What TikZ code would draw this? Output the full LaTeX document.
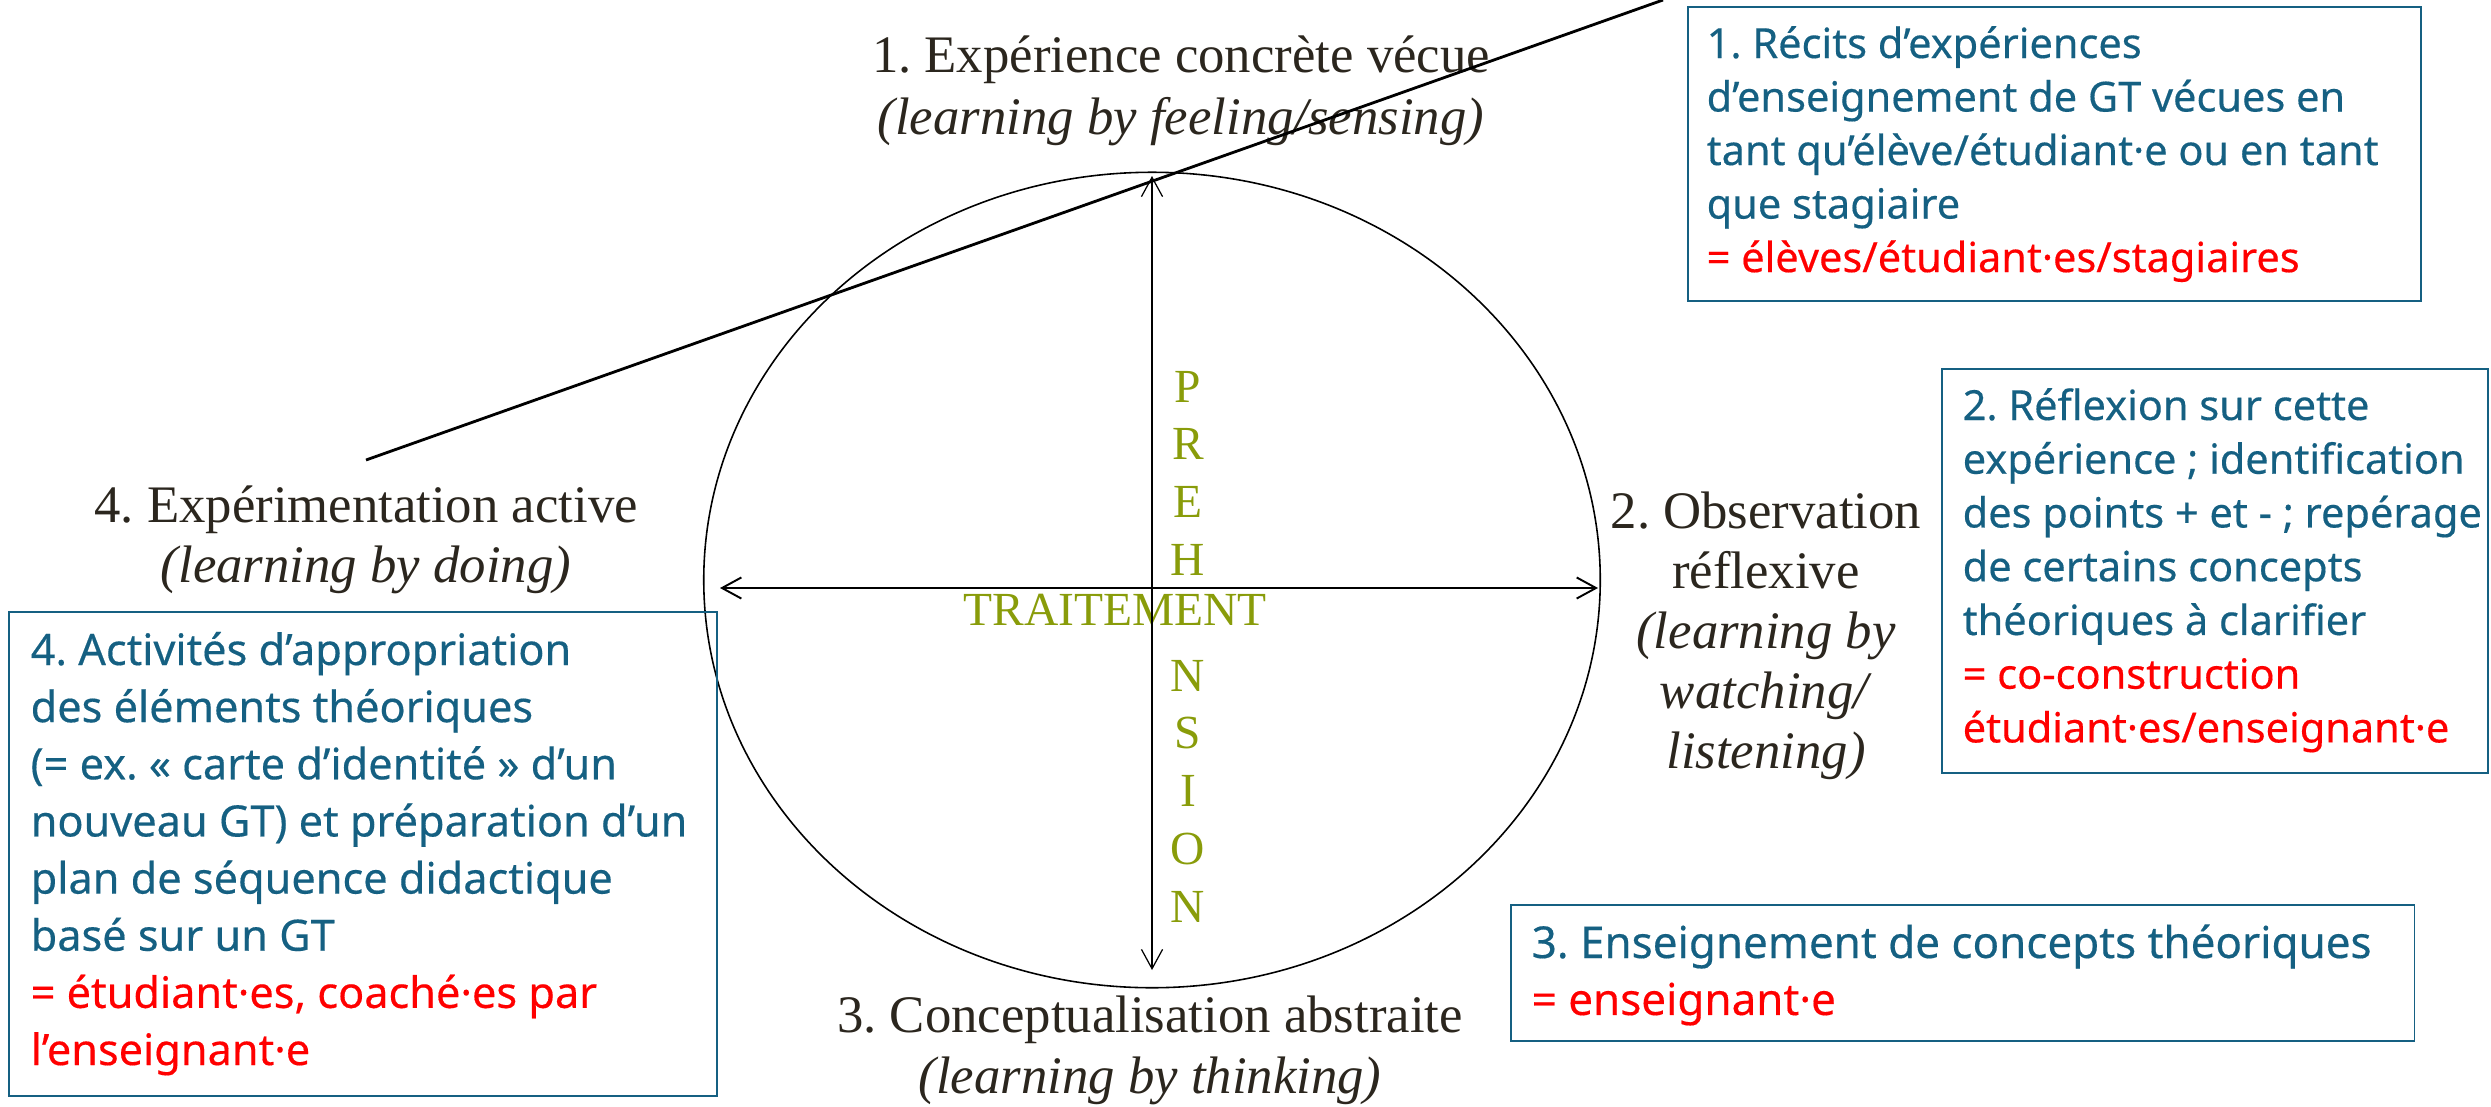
\documentclass[tikz,border=0pt]{standalone}
\usepackage{fontspec}
\setmainfont{Liberation Serif}
\newfontfamily\boxfont[FakeBold=0.35]{Noto Sans}
\usetikzlibrary{shapes.geometric,arrows.meta}
\definecolor{serifcol}{RGB}{43,38,30}
\definecolor{boxblue}{RGB}{21,96,130}
\definecolor{boxred}{RGB}{255,0,0}
\definecolor{olivegreen}{RGB}{137,156,10}
\frenchspacing
\begin{document}
\begin{tikzpicture}[x=0.01cm,y=-0.01cm,
  frame/.style={draw=boxblue,line width=0.45pt,inner sep=0pt,anchor=north west},
  txt/.style={inner sep=0pt,anchor=base west,text=boxblue},
  lbl/.style={inner sep=0pt,anchor=base,text=serifcol},
  axis/.style={inner sep=0pt,anchor=base,text=olivegreen},
  barb/.tip={Straight Barb[length=5.5pt,width=6pt]}
]
\useasboundingbox (0,0) rectangle (2491,1106);

% cycle
\node[draw,ellipse,inner sep=0pt,line width=0.45pt,minimum width=8.96cm,minimum height=8.15cm] (cyc) at (1152,580) {};

% axis labels
\node[axis] (prehension) at (1188,402) {\parbox[t]{1cm}{\centering\fontsize{13.5pt}{16.44pt}\selectfont P\\R\\E\\H\\\phantom{E}\\N\\S\\I\\O\\N}};
\node[axis] (traitement) at (1115,625) {\fontsize{13.5pt}{16pt}\selectfont TRAITEMENT};

% axes
\coordinate (hl) at (720,588);
\coordinate (hr) at (1598,588);
\coordinate (vt) at (1152,176);
\coordinate (vb) at (1152,970);
\draw[line width=0.55pt,barb-barb] (hl) -- (hr);
\draw[line width=0.35pt,barb-barb] (vt) -- (vb);

% stage labels
\node[lbl] (s1) at (1181,72) {\parbox[t]{9cm}{\centering\fontsize{15pt}{17.9pt}\selectfont 1. Expérience concrète vécue\\\textit{(learning by feeling/sensing)}}};
\node[lbl] (s4) at (366,522) {\parbox[t]{8cm}{\centering\fontsize{15pt}{17.1pt}\selectfont 4. Expérimentation active\\\textit{(learning by doing)}}};
\node[lbl] (s2) at (1766,528) {\parbox[t]{4cm}{\centering\fontsize{15pt}{17.1pt}\selectfont 2. Observation\\réflexive\\\textit{(learning by}\\\textit{watching/}\\\textit{listening)}}};
\node[lbl] (s3) at (1150,1032) {\parbox[t]{9cm}{\centering\fontsize{15pt}{17.35pt}\selectfont 3. Conceptualisation abstraite\\\textit{(learning by thinking)}}};

% diagonal line
\coordinate (dl) at (366,460);
\coordinate (dr) at (1663,0);
\draw[line width=0.8pt] (dl) -- (dr);

% boxes
\node[frame,minimum width=7.33cm,minimum height=2.94cm] (b1) at (1687,6) {};
\node[txt] (t1) at (1706,58) {\parbox[t]{7.2cm}{\raggedright\boxfont\fontsize{11.8pt}{15.22pt}\selectfont
1. Récits d’expériences\\
d’enseignement de GT vécues en\\
tant qu’élève/étudiant·e ou en tant\\
que stagiaire\\
\textcolor{boxred}{= élèves/étudiant·es/stagiaires}}};

\node[frame,minimum width=5.46cm,minimum height=4.04cm] (b2) at (1941,368) {};
\node[txt] (t2) at (1962,420) {\parbox[t]{5.3cm}{\raggedright\boxfont\fontsize{11.8pt}{15.28pt}\selectfont
2. Réflexion sur cette\\
expérience ; identification\\
des points + et - ; repérage\\
de certains concepts\\
théoriques à clarifier\\
\textcolor{boxred}{= co-construction}\\
\textcolor{boxred}{étudiant·es/enseignant·e}}};

\node[frame,minimum width=7.08cm,minimum height=4.84cm] (b3) at (8,611) {};
\node[txt] (t3) at (30,665) {\parbox[t]{6.9cm}{\raggedright\boxfont\fontsize{12.3pt}{16.25pt}\selectfont
4. Activités d’appropriation\\
des éléments théoriques\\
(= ex. «~carte d’identité~» d’un\\
nouveau GT) et préparation d’un\\
plan de séquence didactique\\
basé sur un GT\\
\textcolor{boxred}{= étudiant·es, coaché·es par}\\
\textcolor{boxred}{l’enseignant·e}}};

\node[frame,minimum width=9.03cm,minimum height=1.36cm] (b4) at (1510,904) {};
\node[txt] (t4) at (1531,958) {\parbox[t]{8.8cm}{\raggedright\boxfont\fontsize{12.5pt}{16.2pt}\selectfont
3. Enseignement de concepts théoriques\\
\textcolor{boxred}{= enseignant·e}}};
\end{tikzpicture}
\end{document}
